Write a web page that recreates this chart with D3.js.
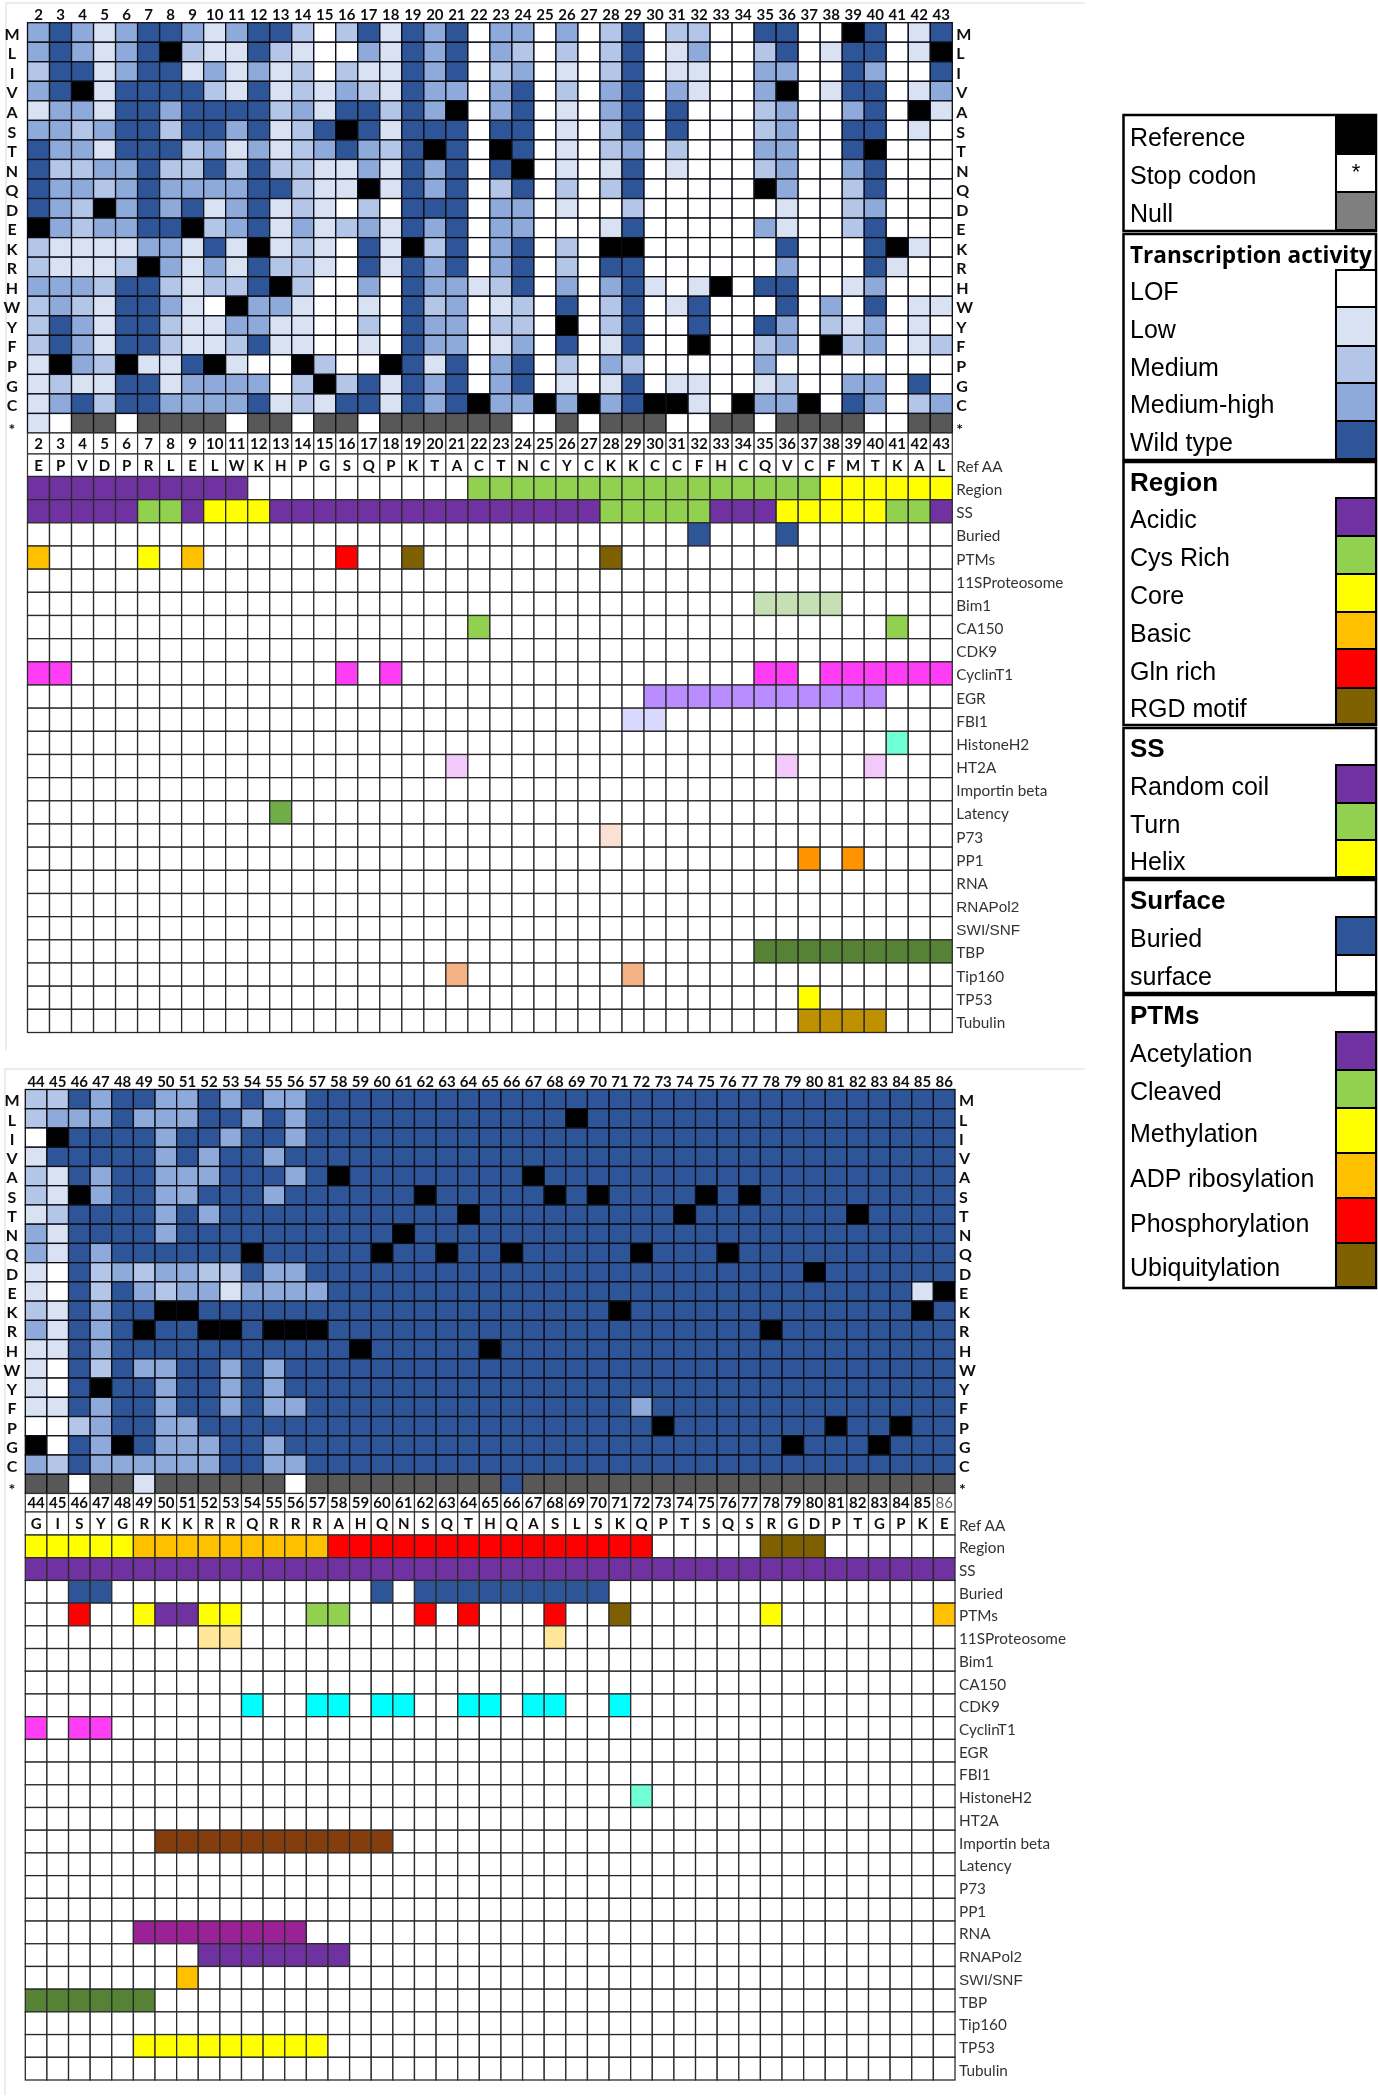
<!DOCTYPE html>
<html>
<head>
<meta charset="utf-8">
<script src="https://cdn.jsdelivr.net/npm/d3@7"></script>
<style>
  html, body { margin: 0; background: #fff; }
  svg { display: block; }
</style>
</head>
<body>
<svg id="chart" width="1378" height="2100"></svg>
<script>
// DATA
// 0 LOF, 1 low, 2 medium, 3 medium-high, 4 wild type, R reference, N null
const aaRows = ["M","L","I","V","A","S","T","N","Q","D","E","K","R","H","W","Y","F","P","G","C","*"];
const tracks = ["Region","SS","Buried","PTMs","11SProteosome","Bim1","CA150","CDK9","CyclinT1","EGR","FBI1","HistoneH2","HT2A","Importin beta","Latency","P73","PP1","RNA","RNAPol2","SWI/SNF","TBP","Tip160","TP53","Tubulin"];

const positionsA = d3.range(2, 44);
const positionsB = d3.range(44, 87);

const refAaA = "EPVDPRLELWKHPGSQPKTACTNCYCKKCCFHCQVCFMTKAL".split("");
const refAaB = "GISYGRKKRRQRRRAHQNSQTHQASLSKQPTSQSRGDPTGPKE".split("");

const heatA = [
  "343134431344202414340" + "3303024022004400R4014",
  "343134R21142100314340" + "32020240130024014401R",
  "244134413131202114340" + "230102401100330043004",
  "34R144442141213214330" + "3402034031003R0144013",
  "1331443444423144243R0" + "340103404000230034" + "0R1",
  "33234424434124R414440" + "440102404000230044010",
  "433144423131234324R40" + "R40102302000330" + "04R000",
  "422334224242211314340" + "4R0101401000230034000",
  "433234333344211R14340" + "240202400000R30024000",
  "432R34341341210204440" + "330100200000010023000",
  "R323344R2341312314340" + "330001400000310024000",
  "2111133141R121041R240" + "34020RR00000040004R10",
  "21112R313142210414340" + "340204400000030004100",
  "33324421224R200304331" + "2403034101R0440013000",
  "232144310R33100104230" + "120402401400040304011",
  "243144211331100204330" + "220R02400400430213010",
  "243144211241100104330" + "130401400R00230R23012",
  "1R32R114R100R200R4140" + "340203200000300000000",
  "1211441333302R2414340" + "340101401100120033040",
  "13424433334121441434R" + "33R3R34RR10R33R043023",
  "10NN0NNNN0NN0NN0NNNNN" + "N00N0NNN00NN0NNNN00NN"
];

const heatB = [
  "22434433434334" + "44444444444444444444444444444",
  "23334333443434" + "44444444444R44444444444444444",
  "0R444434434434" + "44444444444444444444444444444",
  "14444434344344" + "44444444444444444444444444444",
  "21434433344434" + "R44444444R4444444444444444444",
  "21R34433444344" + "4444R44444R4R4444R4R444444444",
  "12444434344444" + "444444R444444444R4444444R4444",
  "31444434444444" + "444R4444444444444444444444444",
  "3143444444R444" + "44R44R44R44444R444R4444444444",
  "10423233224334" + "4444444444444444444444R444444",
  "10424323313333" + "4444444444444444444444444441R",
  "214344RR444444" + "4444444444444R4444444444444R4",
  "31434R44RR4RRR" + "44444444444444444444R44444444",
  "11434444444444" + "4R44444R444444444444444444444",
  "10424334434344" + "44444444444444444444444444444",
  "104R4434434344" + "44444444444444444444444444444",
  "11434434434334" + "44444444444444344444444444444",
  "00234433444444" + "444444444444444R4444444R44R44",
  "R043R433344344" + "444444444444444444444R444R444",
  "32433333344334" + "44444444444444444444444444444",
  "NN0NN1NNNNNN0N" + "NNNNNNNN4NNNNNNNNNNNNNNNNNNNN"
];

// [first, last, category]
const regionA = [[2, 11, "Acidic"], [22, 37, "Cys Rich"], [38, 43, "Core"]];
const regionB = [[44, 48, "Core"], [49, 57, "Basic"], [58, 72, "Gln rich"], [78, 80, "RGD motif"]];
const ssA = [[2, 6, "Random coil"], [7, 8, "Turn"], [9, 9, "Random coil"], [10, 12, "Helix"], [13, 27, "Random coil"], [28, 32, "Turn"], [33, 35, "Random coil"], [36, 40, "Helix"], [41, 42, "Turn"], [43, 43, "Random coil"]];
const ssB = [[44, 86, "Random coil"]];
const buriedA = [[32, 32, "Buried"], [36, 36, "Buried"]];
const buriedB = [[46, 47, "Buried"], [60, 60, "Buried"], [62, 70, "Buried"]];
const ptmA = [[2, 2, "ADP ribosylation"], [7, 7, "Methylation"], [9, 9, "ADP ribosylation"], [16, 16, "Phosphorylation"], [19, 19, "Ubiquitylation"], [28, 28, "Ubiquitylation"]];
const ptmB = [[46, 46, "Phosphorylation"], [49, 49, "Methylation"], [50, 51, "Acetylation"], [52, 53, "Methylation"], [57, 58, "Cleaved"], [62, 62, "Phosphorylation"], [64, 64, "Phosphorylation"], [68, 68, "Phosphorylation"], [71, 71, "Ubiquitylation"], [78, 78, "Methylation"], [86, 86, "ADP ribosylation"]];

// [track, first, last]
const partnersA = [["Bim1", 35, 38], ["CA150", 22, 22], ["CA150", 41, 41], ["CyclinT1", 2, 3], ["CyclinT1", 16, 16], ["CyclinT1", 18, 18], ["CyclinT1", 35, 36], ["CyclinT1", 38, 43], ["EGR", 30, 40], ["FBI1", 29, 30], ["HistoneH2", 41, 41], ["HT2A", 21, 21], ["HT2A", 36, 36], ["HT2A", 40, 40], ["Latency", 13, 13], ["P73", 28, 28], ["PP1", 37, 37], ["PP1", 39, 39], ["TBP", 35, 43], ["Tip160", 21, 21], ["Tip160", 29, 29], ["TP53", 37, 37], ["Tubulin", 37, 40]];
const partnersB = [["11SProteosome", 52, 53], ["11SProteosome", 68, 68], ["CDK9", 54, 54], ["CDK9", 57, 58], ["CDK9", 60, 61], ["CDK9", 64, 65], ["CDK9", 67, 68], ["CDK9", 71, 71], ["CyclinT1", 44, 44], ["CyclinT1", 46, 47], ["HistoneH2", 72, 72], ["Importin beta", 50, 60], ["RNA", 49, 56], ["RNAPol2", 52, 58], ["SWI/SNF", 51, 51], ["TBP", 44, 49], ["TP53", 49, 57]];

const legendBasic = ["Reference", "Stop codon", "Null"];
const legendActivity = ["LOF", "Low", "Medium", "Medium-high", "Wild type"];
const legendRegion = ["Acidic", "Cys Rich", "Core", "Basic", "Gln rich", "RGD motif"];
const legendSS = ["Random coil", "Turn", "Helix"];
const legendSurface = ["Buried", "surface"];
const legendPTM = ["Acetylation", "Cleaved", "Methylation", "ADP ribosylation", "Phosphorylation", "Ubiquitylation"];

// STYLES
const heatColor = { "0": "#ffffff", "1": "#d9e2f3", "2": "#b4c6e7", "3": "#8eaadb", "4": "#2f5597", R: "#000000", N: "#595959" };
const categoryColor = {
  "Acidic": "#7030a0", "Cys Rich": "#92d050", "Core": "#ffff00", "Basic": "#ffc000", "Gln rich": "#ff0000", "RGD motif": "#7f6000",
  "Random coil": "#7030a0", "Turn": "#92d050", "Helix": "#ffff00", "Buried": "#2f5597", "surface": "#ffffff",
  "Acetylation": "#7030a0", "Cleaved": "#92d050", "Methylation": "#ffff00", "ADP ribosylation": "#ffc000", "Phosphorylation": "#ff0000", "Ubiquitylation": "#7f6000",
  "Reference": "#000000", "Stop codon": "#ffffff", "Null": "#7f7f7f",
  "LOF": "#ffffff", "Low": "#d9e2f3", "Medium": "#b4c6e7", "Medium-high": "#8eaadb", "Wild type": "#2f5597"
};
const partnerColor = {
  "11SProteosome": "#ffe699", "Bim1": "#c5e0b4", "CA150": "#92d050", "CDK9": "#00ffff", "CyclinT1": "#ff3cf5", "EGR": "#b98cff", "FBI1": "#d9d9ff",
  "HistoneH2": "#70ffd4", "HT2A": "#f2c9fa", "Importin beta": "#843c0c", "Latency": "#70ad47", "P73": "#fbe1d3", "PP1": "#ff9400", "RNA": "#9a2396",
  "RNAPol2": "#7030a0", "SWI/SNF": "#ffc000", "TBP": "#548235", "Tip160": "#f4b183", "TP53": "#ffff00", "Tubulin": "#bf9000"
};

const labelFont = "Lato, 'Open Sans', sans-serif";
const arialFont = "'Liberation Sans', Arial, sans-serif";

const svg = d3.select("#chart");

svg.append("defs").append("filter")
  .attr("id", "soft")
  .attr("filterUnits", "userSpaceOnUse")
  .attr("x", 0).attr("y", 0).attr("width", 1378).attr("height", 2100)
  .append("feGaussianBlur")
  .attr("stdDeviation", 0.45);

const root = svg.append("g").attr("filter", "url(#soft)");

root.append("rect").attr("width", 1378).attr("height", 2100).attr("fill", "#fff");

// Faint frame left over round each panel
function faintFrame(left, top, right, bottom) {
  const path = d3.path();
  path.moveTo(right, top);
  path.lineTo(left, top);
  path.lineTo(left, bottom);
  root.append("path").attr("d", path.toString()).attr("fill", "none").attr("stroke", "#e6e6e6").attr("stroke-width", 1.5);
}
faintFrame(6, 3, 1085, 1050);
faintFrame(5, 1069, 1085, 2095);

// PANELS
function drawPanel(cfg) {
  const g = root.append("g");

  const x = d3.scaleBand().domain(cfg.positions).range([cfg.left, cfg.right]);
  const yHeat = d3.scaleBand().domain(aaRows).range([cfg.heatTop, cfg.heatBottom]);
  const yTrack = d3.scaleBand().domain(tracks).range([cfg.aaBottom, cfg.bottom]);

  // Heat map
  const cells = [];
  aaRows.forEach((aa, i) => {
    cfg.heat[i].split("").forEach((v, j) => {
      cells.push({ aa: aa, pos: cfg.positions[j], v: v });
    });
  });

  g.append("g")
    .selectAll("rect")
    .data(cells)
    .enter()
    .append("rect")
    .attr("x", d => x(d.pos))
    .attr("y", d => yHeat(d.aa))
    .attr("width", x.bandwidth())
    .attr("height", yHeat.bandwidth())
    .attr("fill", d => heatColor[d.v])
    .attr("stroke", "#0a0a14")
    .attr("stroke-width", 1.3);

  // Axes round the heat map
  const styleAxis = (sel, size) => {
    sel.select(".domain").remove();
    sel.selectAll("text")
      .attr("font-family", labelFont)
      .attr("font-weight", 700)
      .attr("font-size", size)
      .attr("fill", "#111");
  };
  // the row letters sit a little under the middle of their rows
  const nudgeRows = sel => {
    sel.selectAll("text").attr("dy", d => (d === "*" ? "0.72em" : "0.46em"));
  };

  g.append("g")
    .attr("transform", `translate(0,${cfg.heatTop})`)
    .call(d3.axisTop(x).tickSize(0).tickPadding(3))
    .call(styleAxis, 15);

  g.append("g")
    .attr("transform", `translate(${cfg.left},0)`)
    .call(d3.axisLeft(yHeat).tickSize(0))
    .call(styleAxis, 16)
    .call(nudgeRows)
    .selectAll("text")
    .attr("text-anchor", "middle")
    .attr("x", 12 - cfg.left);

  g.append("g")
    .attr("transform", `translate(${cfg.right},0)`)
    .call(d3.axisRight(yHeat).tickSize(0).tickPadding(4))
    .call(styleAxis, 16)
    .call(nudgeRows);

  // Position number row and reference residue row
  const numberRow = g.append("g").selectAll("g").data(cfg.positions).enter().append("g");
  numberRow.append("rect")
    .attr("x", d => x(d))
    .attr("y", cfg.heatBottom)
    .attr("width", x.bandwidth())
    .attr("height", cfg.numBottom - cfg.heatBottom)
    .attr("fill", "#fff")
    .attr("stroke", "#333")
    .attr("stroke-width", 1.2);
  numberRow.append("text")
    .attr("x", d => x(d) + x.bandwidth() / 2)
    .attr("y", (cfg.heatBottom + cfg.numBottom) / 2)
    .attr("dy", "0.36em")
    .attr("text-anchor", "middle")
    .attr("font-family", labelFont)
    .attr("font-weight", d => (d === 86 ? 400 : 700))
    .attr("font-size", 15)
    .attr("fill", d => (d === 86 ? "#666" : "#111"))
    .text(d => d);

  const aaRow = g.append("g").selectAll("g").data(cfg.refAa).enter().append("g");
  aaRow.append("rect")
    .attr("x", (d, i) => x(cfg.positions[i]))
    .attr("y", cfg.numBottom)
    .attr("width", x.bandwidth())
    .attr("height", cfg.aaBottom - cfg.numBottom)
    .attr("fill", "#fff")
    .attr("stroke", "#333")
    .attr("stroke-width", 1.2);
  aaRow.append("text")
    .attr("x", (d, i) => x(cfg.positions[i]) + x.bandwidth() / 2)
    .attr("y", (cfg.numBottom + cfg.aaBottom) / 2)
    .attr("dy", "0.36em")
    .attr("text-anchor", "middle")
    .attr("font-family", labelFont)
    .attr("font-weight", 700)
    .attr("font-size", 15)
    .attr("fill", "#111")
    .text(d => d);

  // Annotation tracks
  const fills = {};
  const mark = (track, first, last, color) => {
    d3.range(first, last + 1).forEach(p => { fills[`${track}|${p}`] = color; });
  };
  cfg.region.forEach(b => mark("Region", b[0], b[1], categoryColor[b[2]]));
  cfg.ss.forEach(b => mark("SS", b[0], b[1], categoryColor[b[2]]));
  cfg.buried.forEach(b => mark("Buried", b[0], b[1], categoryColor[b[2]]));
  cfg.ptm.forEach(b => mark("PTMs", b[0], b[1], categoryColor[b[2]]));
  cfg.partners.forEach(b => mark(b[0], b[1], b[2], partnerColor[b[0]]));

  const trackCells = d3.cross(tracks, cfg.positions).map(d => ({ track: d[0], pos: d[1] }));

  g.append("g")
    .selectAll("rect")
    .data(trackCells)
    .enter()
    .append("rect")
    .attr("x", d => x(d.pos))
    .attr("y", d => yTrack(d.track))
    .attr("width", x.bandwidth())
    .attr("height", yTrack.bandwidth())
    .attr("fill", d => fills[`${d.track}|${d.pos}`] || "#fff")
    .attr("stroke", "#2b2b2b")
    .attr("stroke-width", 1.3);

  const labelRows = [{ name: "Ref AA", y: (cfg.numBottom + cfg.aaBottom) / 2 }]
    .concat(tracks.map(t => ({ name: t, y: yTrack(t) + yTrack.bandwidth() / 2 })));

  g.append("g")
    .selectAll("text")
    .data(labelRows)
    .enter()
    .append("text")
    .attr("x", cfg.right + 4)
    .attr("y", d => d.y + 1.5)
    .attr("dy", "0.36em")
    .attr("font-family", d => (d.name === "RNAPol2" || d.name === "SWI/SNF" ? arialFont : labelFont))
    .attr("font-size", 15.3)
    .attr("fill", "#333")
    .text(d => d.name);
}

drawPanel({
  positions: positionsA, heat: heatA, refAa: refAaA,
  region: regionA, ss: ssA, buried: buriedA, ptm: ptmA, partners: partnersA,
  left: 27.5, right: 952.3, heatTop: 22.7, heatBottom: 433, numBottom: 454, aaBottom: 476.5, bottom: 1032.5
});

drawPanel({
  positions: positionsB, heat: heatB, refAa: refAaB,
  region: regionB, ss: ssB, buried: buriedB, ptm: ptmB, partners: partnersB,
  left: 25.3, right: 955, heatTop: 1089.5, heatBottom: 1493.5, numBottom: 1512, aaBottom: 1535, bottom: 2080
});

// LEGEND
const legendLeft = 1123.5;
const legendSwatch = 1336;
const legendRight = 1376;
const legendText = 1130;

const legendBoxes = [
  { names: legendBasic, top: 115, bottom: 231, edges: [116, 154, 192, 230] },
  { title: "Transcription activity", titleY: 255, names: legendActivity, top: 234, bottom: 460, edges: [270, 307, 346, 383, 421, 459] },
  { title: "Region", titleY: 482, names: legendRegion, top: 462, bottom: 725, edges: [498, 536, 574, 612, 649, 688, 724] },
  { title: "SS", titleY: 748, names: legendSS, top: 728, bottom: 878, edges: [765, 803, 840, 877] },
  { title: "Surface", titleY: 900, names: legendSurface, top: 880, bottom: 993, edges: [917, 955, 992] },
  { title: "PTMs", titleY: 1015, names: legendPTM, top: 995, bottom: 1288, edges: [1032, 1070, 1108, 1153, 1198, 1243, 1287] }
];

const legend = root.append("g");

legendBoxes.forEach(box => {
  legend.append("rect")
    .attr("x", legendLeft)
    .attr("y", box.top)
    .attr("width", legendRight - legendLeft)
    .attr("height", box.bottom - box.top)
    .attr("fill", "#fff")
    .attr("stroke", "#000")
    .attr("stroke-width", 2.5);

  if (box.title) {
    const wide = box.title === "Transcription activity";
    legend.append("text")
      .attr("x", legendText)
      .attr("y", box.titleY)
      .attr("dy", "0.36em")
      .attr("font-family", wide ? "'Open Sans', sans-serif" : arialFont)
      .attr("font-weight", 700)
      .attr("font-size", wide ? 22.6 : 26)
      .attr("fill", "#000")
      .text(box.title);
  }

  box.names.forEach((name, i) => {
    const y0 = box.edges[i];
    const y1 = box.edges[i + 1];
    legend.append("rect")
      .attr("x", legendSwatch)
      .attr("y", y0)
      .attr("width", legendRight - legendSwatch)
      .attr("height", y1 - y0)
      .attr("fill", categoryColor[name])
      .attr("stroke", "#000")
      .attr("stroke-width", 2);
    legend.append("text")
      .attr("x", legendText)
      .attr("y", (y0 + y1) / 2 + 2)
      .attr("dy", "0.36em")
      .attr("font-family", arialFont)
      .attr("font-size", 25)
      .attr("fill", "#000")
      .text(name);
    if (name === "Stop codon") {
      legend.append("text")
        .attr("x", (legendSwatch + legendRight) / 2)
        .attr("y", (y0 + y1) / 2 - 2)
        .attr("dy", "0.36em")
        .attr("text-anchor", "middle")
        .attr("font-family", arialFont)
        .attr("font-size", 22)
        .text("*");
    }
  });
});
</script>
</body>
</html>
